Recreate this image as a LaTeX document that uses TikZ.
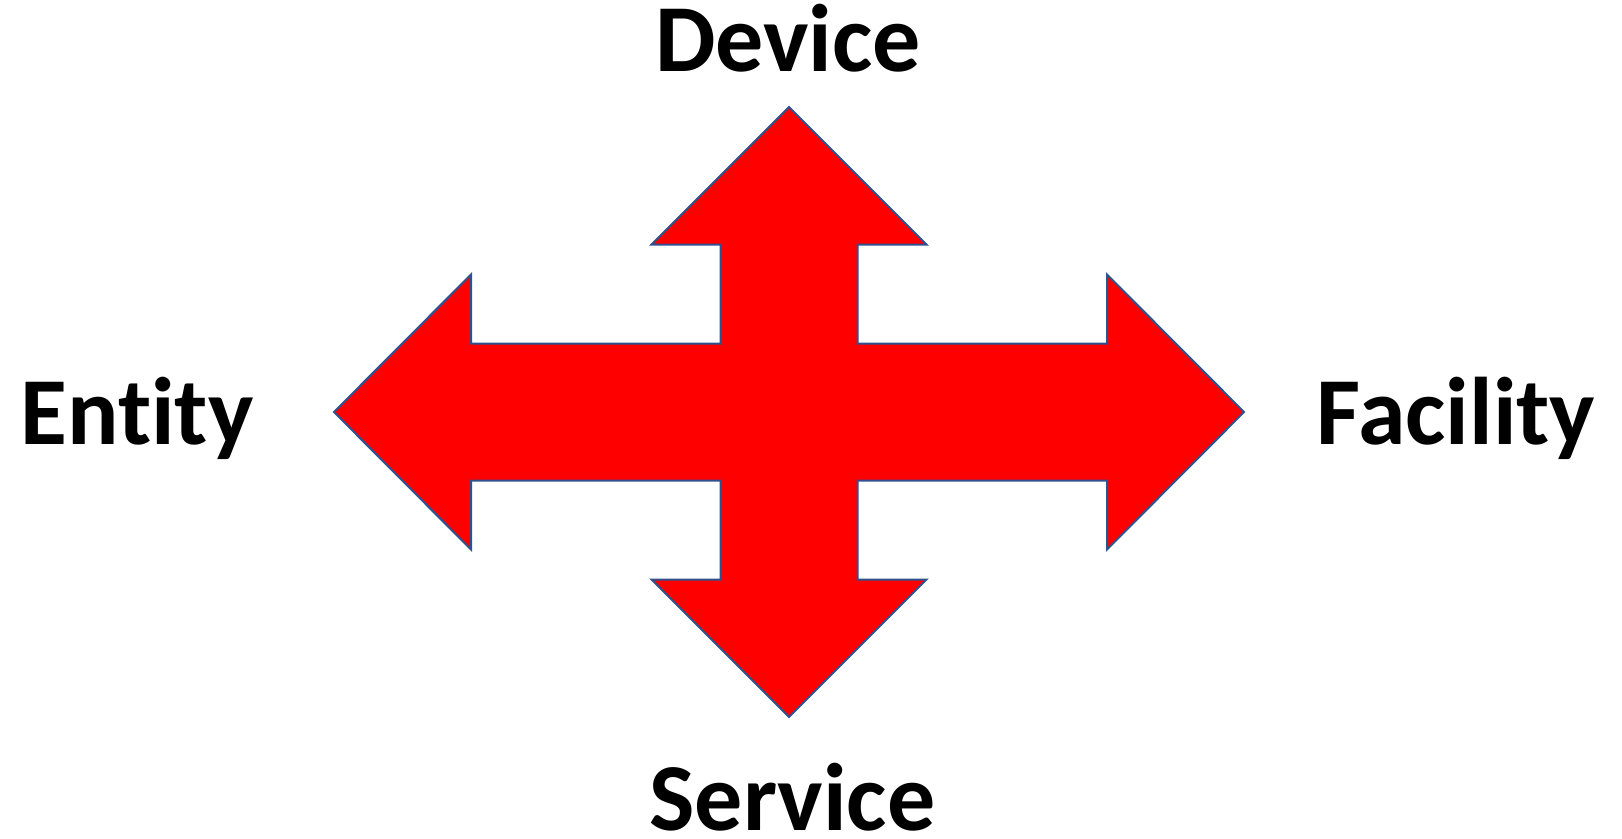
\documentclass[tikz,border=0pt]{standalone}
\usepackage{fontspec}
\setmainfont{Carlito}[Ligatures={NoCommon,NoRequired,NoContextual}]
\definecolor{arrowred}{HTML}{FF0000}
\definecolor{edgeblue}{HTML}{2F528F}
\begin{document}
\begin{tikzpicture}[x=1pt,y=-1pt,
  lbl/.style={inner sep=0pt,anchor=base,font=\fontsize{96}{96}\selectfont\bfseries},
  arrowshape/.style={fill=arrowred,draw=edgeblue,line width=2pt,line join=miter}]
\useasboundingbox (0,0) rectangle (1622,838);
\draw[arrowshape]
  (789,107) -- (926.5,244.5) -- (857.5,244.5) -- (857.5,343.5)
  -- (1107,343.5) -- (1107,274.5) -- (1244,412) -- (1107,549.5) -- (1107,480.5)
  -- (857.5,480.5) -- (857.5,579.5) -- (926.5,579.5) -- (789,717)
  -- (651.5,579.5) -- (720.5,579.5) -- (720.5,480.5)
  -- (471,480.5) -- (471,549.5) -- (334,412) -- (471,274.5) -- (471,343.5)
  -- (720.5,343.5) -- (720.5,244.5) -- (651.5,244.5) -- cycle;
\node[lbl] (device) at (788,71) {Device};
\node[lbl] (service) at (792.5,830) {Service};
\node[lbl] (entity) at (137,444) {Entity};
\node[lbl] (facility) at (1456,444) {Facility};
\end{tikzpicture}
\end{document}
